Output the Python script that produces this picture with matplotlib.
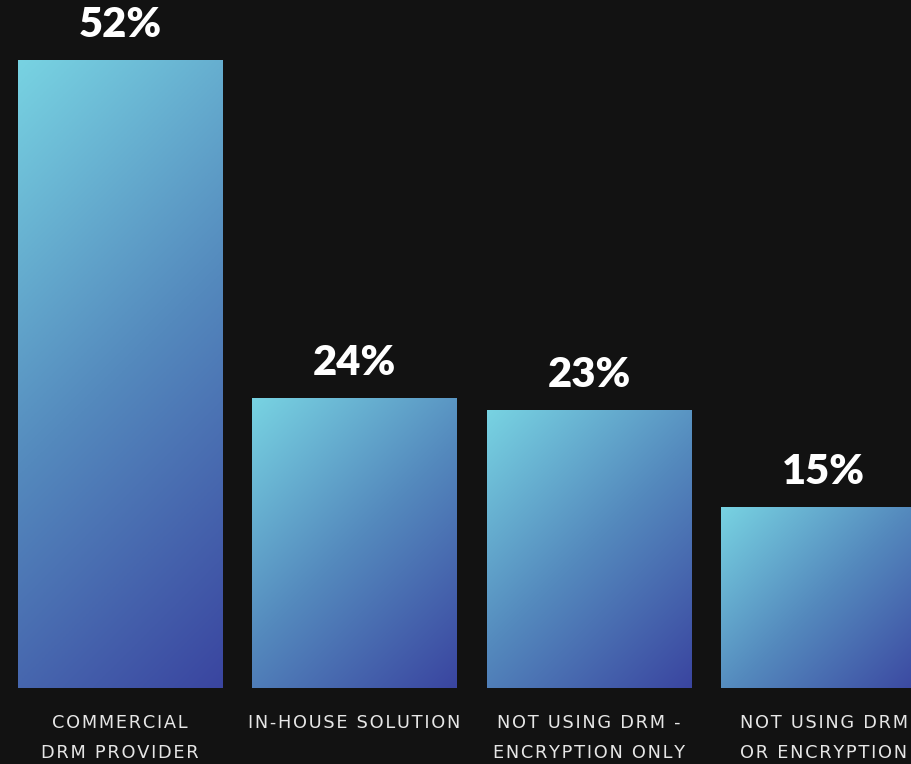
import matplotlib.pyplot as plt
import numpy as np
from matplotlib.colors import LinearSegmentedColormap

labels = ["COMMERCIAL\nDRM PROVIDER", "IN-HOUSE SOLUTION",
          "NOT USING DRM -\nENCRYPTION ONLY", "NOT USING DRM\nOR ENCRYPTION"]
values = [52, 24, 23, 15]

bg = "#121212"
cmap = LinearSegmentedColormap.from_list("drm", ["#78d3e2", "#5489bd", "#3a45a0"])


def spaced(s):
    # fake letter spacing with hair spaces
    return "\n".join("\u200a".join(line) for line in s.split("\n"))


fig = plt.figure(figsize=(9.12, 7.64), dpi=100, facecolor=bg)
ax = fig.add_axes([0, 76 / 764, 1, 688 / 764])
ax.set_facecolor(bg)
px_x, px_y = 234.5, 12.08  # pixels per data unit

x = np.arange(len(values))
width = 0.87
bars = ax.bar(x, values, width, color="none", edgecolor="none")

# 135deg gradient in pixel space: light top-left, dark bottom-right
u, v = np.meshgrid(np.linspace(0, 1, 200), np.linspace(0, 1, 400))
for b in bars:
    x0, y0 = b.get_x(), b.get_y()
    w, h = b.get_width(), b.get_height()
    wp, hp = w * px_x, h * px_y
    grad = (u * wp + v * hp) / (wp + hp)
    im = ax.imshow(grad, cmap=cmap, extent=[x0, x0 + w, y0, y0 + h],
                   origin="upper", aspect="auto", interpolation="bicubic", zorder=2)
    im.set_clip_path(b)

for xi, val in zip(x, values):
    ax.text(xi, val + 2.9, f"{val}%", ha="center", va="center", color="white",
            fontsize=30, fontweight="heavy", family="Lato", zorder=3)

ax.set_xlim(-120 / px_x, (912 - 120) / px_x)
ax.set_ylim(0, 688 / px_y)
ax.set_xticks(x)
ax.set_xticklabels([spaced(l) for l in labels], color="#e6e6e6", fontsize=12.8,
                   family="DejaVu Sans", linespacing=1.8)
ax.tick_params(axis="x", length=0, pad=19)
ax.set_yticks([])
for s in ax.spines.values():
    s.set_visible(False)

fig.savefig("out.png", dpi=100, facecolor=bg)
